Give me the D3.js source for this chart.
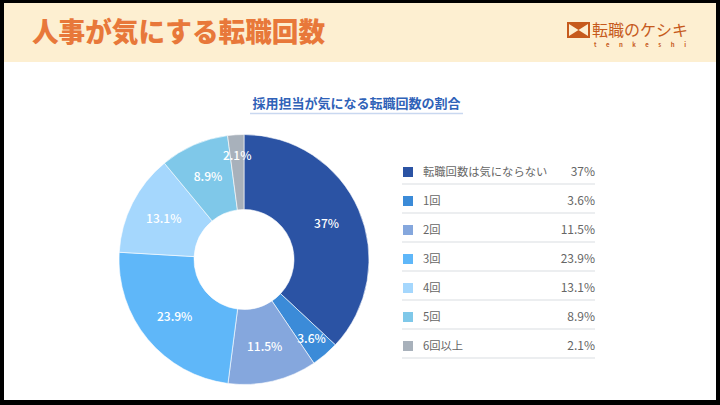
<!DOCTYPE html>
<html><head><meta charset="utf-8">
<script src="https://cdn.jsdelivr.net/npm/d3@7"></script>
<style>
html,body{margin:0;padding:0;background:#000;}
svg{display:block;}
</style></head>
<body>
<svg id="c" width="720" height="405"></svg>
<script>
const title = "人事が気にする転職回数";
const subtitle = "採用担当が気になる転職回数の割合";
const categories = ["転職回数は気にならない","1回","2回","3回","4回","5回","6回以上"];
const values = [37, 3.6, 11.5, 23.9, 13.1, 8.9, 2.1];
const colors = ["#2b53a4","#3b8bd8","#85a7dd","#5fb7f9","#a5d7fd","#7fc8e9","#a8b1bb"];
const logoText = "転職のケシキ";
const logoSub = "tenkeshi";

const svg = d3.select("#c");
const F = "'Noto Sans CJK JP','Noto Sans',sans-serif";

// frame
svg.append("rect").attr("x",0).attr("y",0).attr("width",720).attr("height",405).attr("fill","#000");
svg.append("rect").attr("x",4).attr("y",3).attr("width",712).attr("height",397).attr("fill","#fff");
// header
svg.append("rect").attr("x",4).attr("y",3).attr("width",712).attr("height",59).attr("fill","#fdefd1");
svg.append("text").attr("x",32).attr("y",42).attr("font-family",F).attr("font-weight",900)
  .attr("font-size",27.5).attr("fill","#e8783a").attr("textLength",293).attr("lengthAdjust","spacingAndGlyphs").text(title);

// logo
const lg = svg.append("g").attr("transform","translate(567,22)");
lg.append("rect").attr("width",23).attr("height",16).attr("fill","#c65a1c");
lg.append("path").attr("d","M2,2 L11.5,8 L2,14 Z M21,2 L11.5,8 L21,14 Z").attr("fill","#fdefd1");
svg.append("text").attr("x",592).attr("y",35.5).attr("font-family",F).attr("font-size",16)
  .attr("fill","#c65a1c").attr("textLength",96).text(logoText);
svg.append("text").attr("x",594).attr("y",46.5).attr("font-family",F).attr("font-size",6).attr("font-weight",700)
  .attr("fill","#c65a1c").attr("textLength",92).attr("lengthAdjust","spacing").text(logoSub);

// subtitle
svg.append("text").attr("x",356.5).attr("y",108).attr("text-anchor","middle").attr("font-family",F)
  .attr("font-weight",700).attr("font-size",13).attr("fill","#2f62b8").text(subtitle);
svg.append("line").attr("x1",250).attr("x2",463).attr("y1",113.5).attr("y2",113.5)
  .attr("stroke","#c9d8f0").attr("stroke-width",1.5);

// donut
const cx = 244, cy = 259.5, R = 125, r0 = 50;
const pie = d3.pie().sort(null).value(d=>d)(values);
const arc = d3.arc().innerRadius(r0).outerRadius(R);
const g = svg.append("g").attr("transform",`translate(${cx},${cy})`);
g.selectAll("path").data(pie).join("path").attr("d",arc)
  .attr("fill",(d,i)=>colors[i]).attr("stroke","#fff").attr("stroke-width",0.6);
const labArc = d => d3.arc().innerRadius(d.data<5?104:90).outerRadius(d.data<5?104:90);
g.selectAll("text").data(pie).join("text")
  .attr("transform",d=>{const c=labArc(d).centroid(d);return `translate(${c[0]},${c[1]})`;})
  .attr("text-anchor","middle").attr("dy","0.35em")
  .attr("font-family",F).attr("font-size",12).attr("font-weight",500).attr("fill","#fff")
  .text(d=>d.data+"%");

// legend
const y = d3.scaleBand().domain(categories).range([157.5,360.5]);
const lgd = svg.append("g");
const rows = lgd.selectAll("g").data(categories).join("g")
  .attr("transform",d=>`translate(0,${y(d)+y.bandwidth()/2})`);
rows.append("rect").attr("x",403).attr("y",-5).attr("width",10).attr("height",10).attr("fill",(d,i)=>colors[i]);
rows.append("text").attr("x",423).attr("dy","0.36em").attr("font-family",F).attr("font-size",11.3)
  .attr("fill","#666").text(d=>d);
rows.append("text").attr("x",595).attr("text-anchor","end").attr("dy","0.36em").attr("font-family",F)
  .attr("font-size",12).attr("fill","#666").text((d,i)=>values[i]+"%");
rows.append("line").attr("x1",402).attr("x2",595).attr("y1",12).attr("y2",12)
  .attr("stroke","#e6e8eb").attr("stroke-width",1.5);
</script>
</body></html>
